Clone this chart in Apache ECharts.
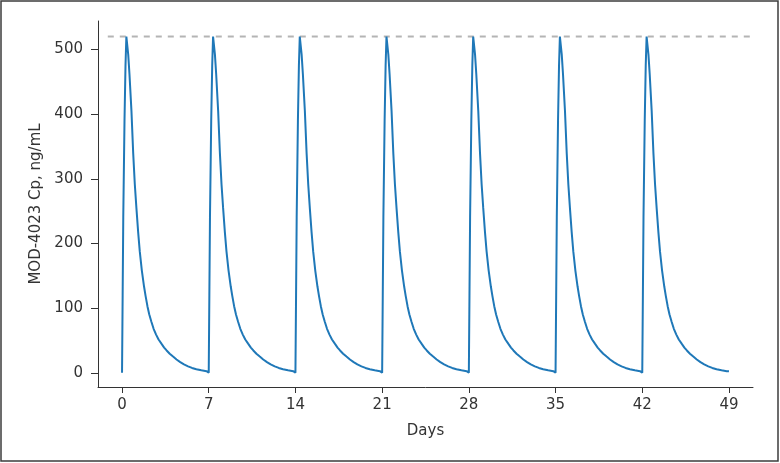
<!DOCTYPE html>
<html>
<head>
<meta charset="utf-8">
<script src="https://cdn.jsdelivr.net/npm/echarts@6.0.0/dist/echarts.min.js"></script>
<style>
  html, body { margin: 0; padding: 0; background: #fff; }
  #chart { width: 780px; height: 463px; }
</style>
</head>
<body>
<div id="chart"></div>
<script>
// dosing days (one injection per week)
let doseDays = [0, 7, 14, 21, 28, 35, 42]
// one dosing interval: days after dose / concentration (ng/mL)
let cycleDays = [0, 0.05, 0.1, 0.2, 0.28, 0.35, 0.5, 0.6, 0.76, 0.9, 1.03, 1.16, 1.3, 1.43, 1.6, 1.78, 1.9, 2.05, 2.2, 2.37, 2.55, 2.75, 2.95, 3.18, 3.4, 3.6, 3.85, 4.12, 4.4, 4.7, 5.0, 5.33, 5.65, 6.0, 6.4, 6.82, 7.0]
let cycleConc = [0, 120, 240, 390, 475, 520, 492, 462, 405, 340, 292, 255, 218, 188, 158, 133, 119, 103, 90, 79, 68, 59, 51.5, 45, 39, 34.5, 29.5, 25, 20.5, 16.5, 13, 10, 7.5, 5.5, 3.8, 2.5, 2.2]
// dashed reference level (Cmax)
let refLevel = 520
let refDays = [-1.15, 50.7]
let xTicks = [0, 7, 14, 21, 28, 35, 42, 49]
let yTicks = [0, 100, 200, 300, 400, 500]

let curve = []
doseDays.forEach(function (d, i) {
  let last = i === doseDays.length - 1
  cycleDays.forEach(function (t, j) {
    if (j === cycleDays.length - 1 && !last) return
    curve.push([d + t, cycleConc[j]])
  })
})

let font = 'DejaVu Sans'
let chart = echarts.init(document.getElementById('chart'))
chart.setOption({
  animation: false,
  backgroundColor: '#fff',
  grid: { left: 98, right: 27, top: 21, bottom: 76 },
  graphic: [{
    type: 'rect',
    shape: { x: 1, y: 1, width: 777, height: 460 },
    style: { fill: 'none', stroke: '#3c3c3c', lineWidth: 1.5 }
  }],
  xAxis: {
    type: 'value',
    min: -1.94,
    max: 50.94,
    name: 'Days',
    nameLocation: 'middle',
    nameGap: 37,
    nameTextStyle: { fontFamily: font, fontSize: 15, color: '#333' },
    axisLine: { onZero: false, lineStyle: { color: '#333', width: 1 } },
    axisTick: { show: true, length: 6, customValues: xTicks, lineStyle: { color: '#333' } },
    axisLabel: { customValues: xTicks, margin: 11, fontFamily: font, fontSize: 15, color: '#333' },
    splitLine: { show: false }
  },
  yAxis: {
    type: 'value',
    min: -22,
    max: 544,
    name: 'MOD-4023 Cp, ng/mL',
    nameLocation: 'middle',
    nameGap: 54,
    nameTextStyle: { fontFamily: font, fontSize: 15, color: '#333' },
    axisLine: { show: true, onZero: false, lineStyle: { color: '#333', width: 1 } },
    axisTick: { show: true, length: 7, customValues: yTicks, lineStyle: { color: '#333' } },
    axisLabel: { customValues: yTicks, margin: 15, fontFamily: font, fontSize: 15, color: '#333' },
    splitLine: { show: false }
  },
  series: [
    {
      name: 'Cmax',
      type: 'line',
      data: refDays.map(function (d) { return [d, refLevel] }),
      showSymbol: false,
      silent: true,
      lineStyle: { color: '#b4b4b4', width: 2, type: [6, 6] }
    },
    {
      name: 'MOD-4023',
      type: 'line',
      data: curve,
      showSymbol: false,
      lineStyle: { color: '#1f78b8', width: 2 }
    }
  ]
})
</script>
</body>
</html>
